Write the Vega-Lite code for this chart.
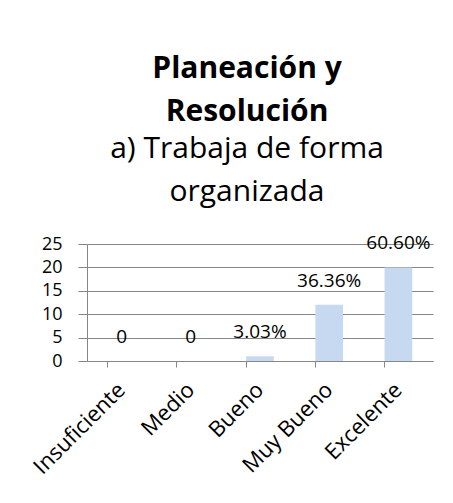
{
  "$schema": "https://vega.github.io/schema/vega-lite/v6.json",
  "width": 346,
  "height": 117,
  "autosize": {"type": "pad"},
  "padding": {"left": 29, "top": 54, "right": 21, "bottom": 5},
  "background": "white",
  "title": {
    "text": ["Planeación y", "Resolución"],
    "subtitle": ["a) Trabaja de forma", "organizada"],
    "font": "Open Sans",
    "fontSize": 30,
    "fontWeight": "bold",
    "lineHeight": 43,
    "color": "black",
    "subtitleFont": "Open Sans",
    "subtitleFontSize": 30,
    "subtitleFontWeight": "normal",
    "subtitleLineHeight": 43,
    "subtitleColor": "black",
    "subtitlePadding": 7,
    "anchor": "middle",
    "dx": -13,
    "offset": 27
  },
  "data": {
    "values": [
      {"cat": "Insuficiente", "value": 0, "label": "0"},
      {"cat": "Medio", "value": 0, "label": "0"},
      {"cat": "Bueno", "value": 1, "label": "3.03%"},
      {"cat": "Muy Bueno", "value": 12, "label": "36.36%"},
      {"cat": "Excelente", "value": 20, "label": "60.60%"}
    ]
  },
  "encoding": {
    "x": {
      "field": "cat",
      "type": "nominal",
      "sort": null,
      "title": null,
      "scale": {"paddingInner": 0.6, "paddingOuter": 0.3},
      "axis": {
        "labelAngle": -45,
        "labelAlign": "right",
        "labelBaseline": "middle",
        "labelFont": "Open Sans",
        "labelFontSize": 22,
        "labelColor": "black",
        "labelPadding": 19,
        "bandPosition": 0,
        "tickSize": 6,
        "tickColor": "#868686",
        "domainColor": "#868686",
        "grid": false
      }
    },
    "y": {
      "field": "value",
      "type": "quantitative",
      "title": null,
      "scale": {"domain": [0, 25]},
      "axis": {
        "values": [0, 5, 10, 15, 20, 25],
        "labelFont": "Open Sans",
        "labelFontSize": 18,
        "labelColor": "black",
        "labelPadding": 16,
        "labelOverlap": false,
        "tickSize": 9,
        "tickColor": "#868686",
        "domainColor": "#868686",
        "gridColor": "#868686",
        "grid": true
      }
    }
  },
  "layer": [
    {"mark": {"type": "bar", "color": "#C6D9F1"}},
    {
      "mark": {"type": "text", "baseline": "alphabetic", "dy": -18, "font": "Open Sans", "fontSize": 19, "color": "black"},
      "encoding": {"text": {"field": "label"}}
    }
  ],
  "config": {"view": {"stroke": null}}
}
